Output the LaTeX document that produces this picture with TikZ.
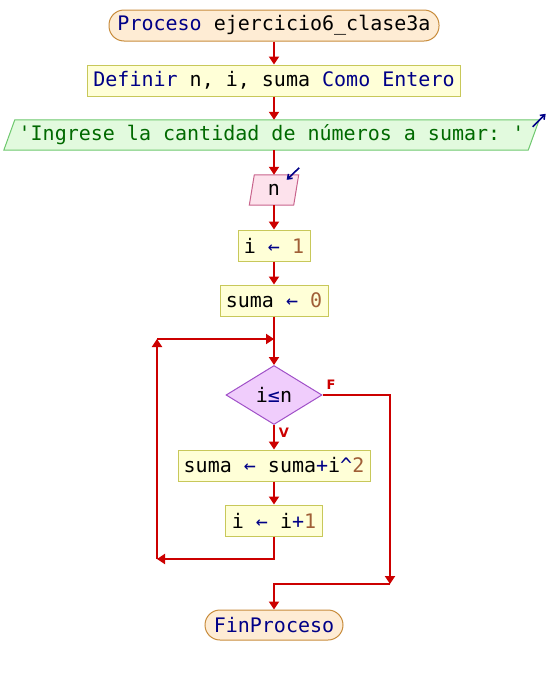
\documentclass[tikz,border=0pt]{standalone}
\usepackage{fontspec}
\setmonofont{DejaVu Sans Mono}
\setsansfont{DejaVu Sans}
\usetikzlibrary{arrows.meta,shapes.geometric,backgrounds}
\definecolor{kwc}{RGB}{0,0,135}
\definecolor{numc}{RGB}{160,95,55}
\definecolor{strc}{RGB}{0,105,0}
\definecolor{flowred}{RGB}{204,0,0}
\definecolor{termfill}{RGB}{254,236,212}
\definecolor{termdraw}{RGB}{200,140,60}
\definecolor{procfill}{RGB}{255,255,215}
\definecolor{procdraw}{RGB}{200,200,90}
\definecolor{outfill}{RGB}{226,250,222}
\definecolor{outdraw}{RGB}{110,200,110}
\definecolor{infill}{RGB}{253,226,236}
\definecolor{indraw}{RGB}{200,100,140}
\definecolor{condfill}{RGB}{240,205,252}
\definecolor{conddraw}{RGB}{160,80,200}
\newcommand{\kwd}[1]{\textcolor{kwc}{#1}}
\newcommand{\numb}[1]{\textcolor{numc}{#1}}
\newcommand{\strg}[1]{\textcolor{strc}{#1}}
\begin{document}
\begin{tikzpicture}[x=1pt,y=-1pt,
  font=\ttfamily\fontsize{20}{24}\selectfont,
  term/.style={draw=termdraw,fill=termfill,line width=1pt,rounded corners=15pt,inner sep=0pt,minimum height=31pt},
  proc/.style={draw=procdraw,fill=procfill,line width=1pt,inner sep=0pt,minimum height=31pt},
  plain/.style={inner sep=0pt,minimum height=30pt},
  outshape/.style={draw=outdraw,fill=outfill,line width=1pt},
  inshape/.style={draw=indraw,fill=infill,line width=1pt},
  condshape/.style={diamond,draw=conddraw,fill=condfill,line width=1pt,inner sep=0pt},
  line/.style={draw=flowred,line width=2.6pt},
  arr/.style={line,-{Triangle[width=10pt,length=8pt]}},
  icon/.style={draw=kwc,line width=1.6pt,-{Straight Barb[width=6pt,length=4pt]}},
  lab/.style={text=flowred,font=\sffamily\bfseries\fontsize{13}{15}\selectfont,inner sep=0pt}]
\useasboundingbox (0,0) rectangle (548,675);

\node[term,minimum width=330pt] (start) at (274,25.5) {\kwd{Proceso} ejercicio6\_clase3a};
\node[proc,minimum width=373pt] (def) at (274,80.5) {\kwd{Definir} n, i, suma \kwd{Como Entero}};
\node[plain,minimum width=524pt] (out) at (271.5,135) {\strg{'Ingrese la cantidad de números a sumar: '}};
\node[plain,minimum width=44pt] (inp) at (274,190) {n};
\node[proc,minimum width=72pt] (i1) at (274,245.5) {i \kwd{←} \numb{1}};
\node[proc,minimum width=108pt] (s0) at (274,300.5) {suma \kwd{←} \numb{0}};
\node[condshape,minimum width=96pt,minimum height=59pt] (cond) at (274,395) {i\kwd{≤}n};
\node[proc,minimum width=192pt] (s1) at (274,465.5) {suma \kwd{←} suma\kwd{+}i\kwd{\^{}}\numb{2}};
\node[proc,minimum width=97pt] (i2) at (274,520.5) {i \kwd{←} i\kwd{+}\numb{1}};
\node[term,minimum width=138pt,minimum height=30pt] (fin) at (274,625) {\kwd{FinProceso}};

\begin{scope}[on background layer]
\draw[outshape] ([xshift=5.5pt]out.north west) -- ([xshift=5.5pt]out.north east)
  -- ([xshift=-5.5pt]out.south east) -- ([xshift=-5.5pt]out.south west) -- cycle;
\draw[inshape] ([xshift=2.5pt]inp.north west) -- ([xshift=2.5pt]inp.north east)
  -- ([xshift=-2.5pt]inp.south east) -- ([xshift=-2.5pt]inp.south west) -- cycle;
\end{scope}

\draw[icon] ([shift={(-1,7)}]out.north east) -- ([shift={(12,-6)}]out.north east);
\draw[icon] ([shift={(3,-7)}]inp.north east) -- ([shift={(-9.5,5)}]inp.north east);

\node[lab] (lf) at (331,385) {F};
\node[lab] (lv) at (284,433) {V};

\coordinate (jt) at (274,339);
\coordinate (lt) at (157,339);
\coordinate (lb) at (157,559);
\coordinate (fr) at (390,584);

\draw[arr] (start.south) -- (def.north);
\draw[arr] (def.south) -- (out.north -| def.south);
\draw[arr] (out.south -| inp.north) -- (inp.north);
\draw[arr] (inp.south) -- (i1.north);
\draw[arr] (i1.south) -- (s0.north);
\draw[arr] (s0.south) -- (cond.north);
\draw[arr] (cond.south) -- (s1.north);
\draw[arr] (s1.south) -- (i2.north);
\draw[arr] (i2.south) |- (lb);
\draw[arr] (lb) -- (lt);
\draw[arr] (lt) -- (jt);
\draw[arr] (cond.east) -| (fr);
\draw[arr] (fr) -| (fin.north);
\end{tikzpicture}
\end{document}
